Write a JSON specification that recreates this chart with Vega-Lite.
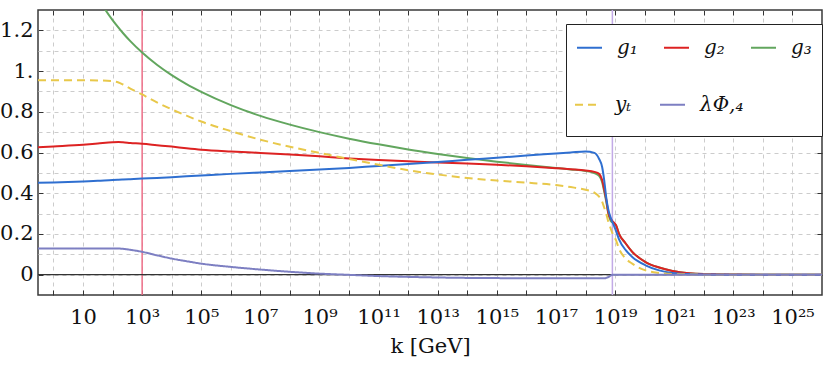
{
  "$schema": "https://vega.github.io/schema/vega-lite/v6.json",
  "width": 784,
  "height": 285,
  "autosize": {"type": "none"},
  "padding": {"left": 38, "top": 10, "right": 8, "bottom": 76},
  "background": "white",
  "config": {"view": {"stroke": "#3a3a3a", "strokeWidth": 1.5}, "font": "DejaVu Serif"},
  "datasets": {
    "curves": [
      {"k": 0.3, "g1": 0.451, "g2": 0.626, "g3": 2.7, "yt": 0.955, "lam": 0.128},
      {"k": 1, "g1": 0.453, "g2": 0.630, "g3": 2.05, "yt": 0.955, "lam": 0.128},
      {"k": 10, "g1": 0.458, "g2": 0.638, "g3": 1.509, "yt": 0.955, "lam": 0.128},
      {"k": 31.62, "g1": 0.461, "g2": 0.644, "g3": 1.362, "yt": 0.954, "lam": 0.128},
      {"k": 100, "g1": 0.465, "g2": 0.650, "g3": 1.25, "yt": 0.950, "lam": 0.128},
      {"k": 158.5, "g1": 0.466, "g2": 0.651, "g3": 1.213, "yt": 0.944, "lam": 0.128},
      {"k": 223.9, "g1": 0.467, "g2": 0.650, "g3": 1.187, "yt": 0.934, "lam": 0.127},
      {"k": 398.1, "g1": 0.469, "g2": 0.647, "g3": 1.147, "yt": 0.914, "lam": 0.122},
      {"k": 1000, "g1": 0.472, "g2": 0.643, "g3": 1.091, "yt": 0.885, "lam": 0.112},
      {"k": 3162, "g1": 0.475, "g2": 0.636, "g3": 1.031, "yt": 0.846, "lam": 0.095},
      {"k": 1e4, "g1": 0.479, "g2": 0.629, "g3": 0.98, "yt": 0.812, "lam": 0.079},
      {"k": 31620, "g1": 0.483, "g2": 0.621, "g3": 0.936, "yt": 0.781, "lam": 0.066},
      {"k": 1e5, "g1": 0.487, "g2": 0.614, "g3": 0.898, "yt": 0.752, "lam": 0.054},
      {"k": 1e6, "g1": 0.495, "g2": 0.605, "g3": 0.833, "yt": 0.705, "lam": 0.038},
      {"k": 1e7, "g1": 0.502, "g2": 0.598, "g3": 0.78, "yt": 0.663, "lam": 0.025},
      {"k": 1e8, "g1": 0.509, "g2": 0.590, "g3": 0.737, "yt": 0.628, "lam": 0.014},
      {"k": 1e9, "g1": 0.516, "g2": 0.581, "g3": 0.70, "yt": 0.598, "lam": 0.005},
      {"k": 1e10, "g1": 0.524, "g2": 0.571, "g3": 0.668, "yt": 0.568, "lam": -0.001},
      {"k": 1e11, "g1": 0.534, "g2": 0.563, "g3": 0.64, "yt": 0.54, "lam": -0.007},
      {"k": 1e12, "g1": 0.543, "g2": 0.557, "g3": 0.615, "yt": 0.513, "lam": -0.011},
      {"k": 1e13, "g1": 0.553, "g2": 0.551, "g3": 0.593, "yt": 0.492, "lam": -0.014},
      {"k": 1e14, "g1": 0.564, "g2": 0.546, "g3": 0.573, "yt": 0.475, "lam": -0.016},
      {"k": 1e15, "g1": 0.574, "g2": 0.540, "g3": 0.555, "yt": 0.462, "lam": -0.017},
      {"k": 1e16, "g1": 0.585, "g2": 0.532, "g3": 0.539, "yt": 0.452, "lam": -0.018},
      {"k": 1e17, "g1": 0.595, "g2": 0.523, "g3": 0.524, "yt": 0.440, "lam": -0.018},
      {"k": 3.162e17, "g1": 0.600, "g2": 0.518, "g3": 0.517, "yt": 0.430, "lam": -0.018},
      {"k": 1e18, "g1": 0.605, "g2": 0.512, "g3": 0.509, "yt": 0.417, "lam": -0.018},
      {"k": 1.995e18, "g1": 0.598, "g2": 0.505, "g3": 0.499, "yt": 0.403, "lam": -0.018},
      {"k": 2.884e18, "g1": 0.568, "g2": 0.495, "g3": 0.485, "yt": 0.383, "lam": -0.018},
      {"k": 3.631e18, "g1": 0.53, "g2": 0.466, "g3": 0.455, "yt": 0.359, "lam": -0.018},
      {"k": 4.266e18, "g1": 0.466, "g2": 0.42, "g3": 0.41, "yt": 0.33, "lam": -0.018},
      {"k": 5.012e18, "g1": 0.38, "g2": 0.37, "g3": 0.36, "yt": 0.30, "lam": -0.016},
      {"k": 5.888e18, "g1": 0.32, "g2": 0.305, "g3": 0.30, "yt": 0.26, "lam": -0.012},
      {"k": 7.079e18, "g1": 0.28, "g2": 0.275, "g3": 0.265, "yt": 0.227, "lam": -0.005},
      {"k": 8.318e18, "g1": 0.255, "g2": 0.262, "g3": 0.255, "yt": 0.20, "lam": 0.0},
      {"k": 1.072e19, "g1": 0.215, "g2": 0.243, "g3": 0.243, "yt": 0.169, "lam": 0.0},
      {"k": 1.349e19, "g1": 0.175, "g2": 0.202, "g3": 0.202, "yt": 0.128, "lam": 0.0},
      {"k": 2.291e19, "g1": 0.12, "g2": 0.153, "g3": 0.153, "yt": 0.079, "lam": 0.0},
      {"k": 3.802e19, "g1": 0.087, "g2": 0.112, "g3": 0.112, "yt": 0.054, "lam": 0.0},
      {"k": 1.072e20, "g1": 0.046, "g2": 0.062, "g3": 0.062, "yt": 0.021, "lam": 0.0},
      {"k": 3.09e20, "g1": 0.021, "g2": 0.035, "g3": 0.035, "yt": 0.008, "lam": 0.0},
      {"k": 8.71e20, "g1": 0.008, "g2": 0.018, "g3": 0.018, "yt": 0.003, "lam": 0.0},
      {"k": 3.162e21, "g1": 0.003, "g2": 0.007, "g3": 0.007, "yt": 0.001, "lam": 0.0},
      {"k": 1e22, "g1": 0.001, "g2": 0.003, "g3": 0.003, "yt": 0.0, "lam": 0.0},
      {"k": 1e23, "g1": 0.0, "g2": 0.001, "g3": 0.001, "yt": 0.0, "lam": 0.0},
      {"k": 1e24, "g1": 0.0, "g2": 0.0, "g3": 0.0, "yt": 0.0, "lam": 0.0},
      {"k": 1e26, "g1": 0.0, "g2": 0.0, "g3": 0.0, "yt": 0.0, "lam": 0.0}
    ]
  },
  "layer": [
    {
      "data": {"values": [{"k": 1000}]},
      "mark": {"type": "rule", "color": "#ee6f88", "strokeWidth": 1.5},
      "encoding": {
        "x": {
          "field": "k", "type": "quantitative",
          "scale": {"type": "log", "domain": [0.3, 1e26], "nice": false},
          "axis": {
            "orient": "top",
            "values": [1, 10, 100, 1e3, 1e4, 1e5, 1e6, 1e7, 1e8, 1e9, 1e10, 1e11, 1e12, 1e13, 1e14, 1e15, 1e16, 1e17, 1e18, 1e19, 1e20, 1e21, 1e22, 1e23, 1e24, 1e25],
            "labels": false, "grid": false, "domain": false,
            "ticks": true, "tickSize": -5, "tickColor": "#333", "tickWidth": 1,
            "title": null
          }
        }
      }
    },
    {
      "data": {"values": [{"k": 8.1e18}]},
      "mark": {"type": "rule", "color": "#c2aae6", "strokeWidth": 1.5},
      "encoding": {
        "x": {"field": "k", "type": "quantitative", "scale": {"type": "log", "domain": [0.3, 1e26], "nice": false}, "axis": null}
      }
    },
    {
      "data": {"values": [{"v": 0}]},
      "mark": {"type": "rule", "color": "#333333", "strokeWidth": 1.2},
      "encoding": {
        "y": {
          "field": "v", "type": "quantitative",
          "scale": {"domain": [-0.1, 1.3], "nice": false, "zero": false},
          "axis": {
            "orient": "right",
            "values": [0, 0.2, 0.4, 0.6, 0.8, 1, 1.2],
            "labels": false, "grid": false, "domain": false,
            "ticks": true, "tickSize": -5, "tickColor": "#333", "tickWidth": 1,
            "title": null
          }
        }
      }
    },
    {
      "data": {"name": "curves"},
      "transform": [{"fold": ["g3", "g2", "g1"], "as": ["s", "v"]}],
      "mark": {"type": "line", "strokeWidth": 2, "interpolate": "monotone", "clip": true},
      "encoding": {
        "x": {
          "field": "k", "type": "quantitative",
          "scale": {"type": "log", "domain": [0.3, 1e26], "nice": false},
          "axis": {
            "orient": "bottom",
            "values": [1, 10, 100, 1e3, 1e4, 1e5, 1e6, 1e7, 1e8, 1e9, 1e10, 1e11, 1e12, 1e13, 1e14, 1e15, 1e16, 1e17, 1e18, 1e19, 1e20, 1e21, 1e22, 1e23, 1e24, 1e25],
            "labelExpr": "['','10','','10³','','10⁵','','10⁷','','10⁹','','10¹¹','','10¹³','','10¹⁵','','10¹⁷','','10¹⁹','','10²¹','','10²³','','10²⁵'][round(log(datum.value)/LN10)]",
            "grid": true, "gridColor": "#cccccc", "gridDash": [4, 4], "gridWidth": 1,
            "domain": false,
            "ticks": true, "tickSize": -5, "tickColor": "#333", "tickWidth": 1,
            "labelFont": "DejaVu Serif", "labelFontSize": 21, "labelColor": "#111",
            "labelPadding": 16, "labelOverlap": false, "labelFlush": false,
            "title": "k [GeV]", "titleFont": "DejaVu Serif", "titleFontSize": 21,
            "titleFontWeight": "normal", "titleColor": "#111", "titlePadding": 8
          }
        },
        "y": {
          "field": "v", "type": "quantitative",
          "scale": {"domain": [-0.1, 1.3], "nice": false, "zero": false},
          "axis": {
            "orient": "left",
            "values": [0, 0.1, 0.2, 0.3, 0.4, 0.5, 0.6, 0.7, 0.8, 0.9, 1, 1.1, 1.2],
            "labelExpr": "round(datum.value*10) % 2 != 0 ? '' : (round(datum.value*10) == 10 ? '1.' : format(datum.value, '.1~f'))",
            "grid": true, "gridColor": "#cccccc", "gridDash": [4, 4], "gridWidth": 1,
            "domain": false,
            "ticks": true, "tickSize": -5, "tickColor": "#333", "tickWidth": 1,
            "tickOpacity": {"condition": {"test": "round(datum.value*10) % 2 == 0", "value": 1}, "value": 0},
            "labelFont": "DejaVu Serif", "labelFontSize": 21, "labelColor": "#111",
            "labelPadding": 10, "labelOverlap": false, "labelFlush": false,
            "title": null
          }
        },
        "color": {
          "field": "s", "type": "nominal",
          "scale": {"domain": ["g1", "g2", "g3"], "range": ["#2f6fd0", "#dd2222", "#62a65e"]},
          "legend": {
            "title": " ", "titleOrient": "bottom", "titleFontSize": 44, "titlePadding": 24,
            "orient": "none", "legendX": 528, "legendY": 14, "direction": "horizontal", "zindex": 0,
            "columns": 3, "symbolType": "stroke", "symbolSize": 625, "symbolStrokeWidth": 2,
            "labelFont": "DejaVu Serif", "labelFontStyle": "italic", "labelFontSize": 20, "labelColor": "#111",
            "labelOffset": 14, "columnPadding": 22, "padding": 10,
            "fillColor": "white", "strokeColor": "#222",
            "labelExpr": "{'g1':'g₁','g2':'g₂','g3':'g₃'}[datum.label]"
          }
        }
      }
    },
    {
      "data": {"name": "curves"},
      "transform": [{"fold": ["yt", "lam"], "as": ["s", "v"]}],
      "mark": {"type": "line", "strokeWidth": 2, "interpolate": "monotone", "clip": true},
      "encoding": {
        "x": {"field": "k", "type": "quantitative", "scale": {"type": "log", "domain": [0.3, 1e26], "nice": false}, "axis": null},
        "y": {"field": "v", "type": "quantitative", "scale": {"domain": [-0.1, 1.3], "nice": false, "zero": false}, "axis": null},
        "color": {
          "field": "s", "type": "nominal",
          "scale": {"domain": ["yt", "lam"], "range": ["#e8c84a", "#7d7fc2"]},
          "legend": {
            "title": null, "orient": "none", "legendX": 526, "legendY": 71, "direction": "horizontal", "zindex": 1,
            "columns": 2, "symbolType": "stroke", "symbolSize": 625, "symbolStrokeWidth": 2,
            "labelFont": "DejaVu Serif", "labelFontStyle": "italic", "labelFontSize": 20, "labelColor": "#111",
            "labelOffset": 14, "columnPadding": 24, "padding": 10,
            "labelExpr": "{'yt':'yₜ','lam':'λΦ,₄'}[datum.label]"
          }
        },
        "strokeDash": {
          "field": "s", "type": "nominal",
          "scale": {"domain": ["yt", "lam"], "range": [[8, 5], [1, 0]]},
          "legend": {
            "title": null, "orient": "none", "legendX": 526, "legendY": 71, "direction": "horizontal", "zindex": 1,
            "columns": 2, "symbolType": "stroke", "symbolSize": 625, "symbolStrokeWidth": 2,
            "labelFont": "DejaVu Serif", "labelFontStyle": "italic", "labelFontSize": 20, "labelColor": "#111",
            "labelOffset": 14, "columnPadding": 24, "padding": 10,
            "labelExpr": "{'yt':'yₜ','lam':'λΦ,₄'}[datum.label]"
          }
        }
      }
    }
  ],
  "resolve": {"axis": {"x": "independent", "y": "independent"}, "scale": {"color": "independent", "strokeDash": "independent"}}
}
